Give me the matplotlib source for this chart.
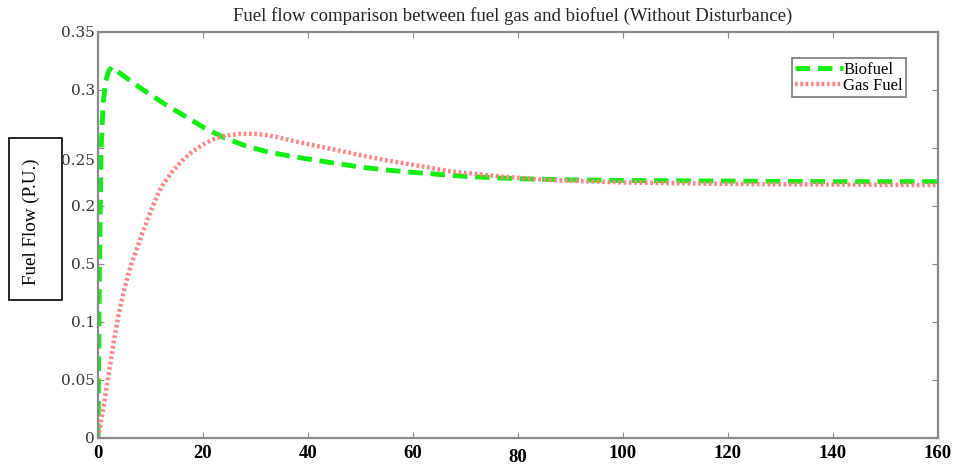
import matplotlib
matplotlib.use("Agg")
import matplotlib.pyplot as plt
from matplotlib.patches import Rectangle
from matplotlib.transforms import ScaledTranslation

# Data
bio_x = [0, 0.3, 0.6, 1, 1.5, 2, 2.6, 4, 6, 8, 10, 13, 16, 20, 24, 28, 32, 36, 40,
         45, 50, 55, 60, 70, 80, 90, 100, 120, 140, 160]
bio_y = [0, 0.15, 0.25, 0.29, 0.308, 0.316, 0.3196, 0.315, 0.3085, 0.302, 0.296, 0.287,
         0.279, 0.268, 0.259, 0.252, 0.247, 0.2435, 0.2405, 0.237, 0.2335, 0.231, 0.229,
         0.2255, 0.2235, 0.2225, 0.222, 0.2215, 0.221, 0.221]

gas_x = [0, 1, 2, 3, 4, 5, 6, 7, 8, 9, 10, 11, 12, 14, 16, 18, 20, 22, 24, 27, 30, 32,
         34, 38, 42, 46, 50, 55, 60, 67, 77, 86, 100, 120, 140, 160]
gas_y = [0, 0.025, 0.054, 0.083, 0.108, 0.128, 0.145, 0.158, 0.171, 0.183, 0.195,
         0.206, 0.216, 0.229, 0.239, 0.247, 0.253, 0.2575, 0.2605, 0.2622, 0.2622, 0.2612,
         0.2595, 0.2553, 0.2515, 0.2477, 0.2438, 0.2393, 0.2355, 0.2300, 0.2253, 0.2224,
         0.2203, 0.219, 0.2185, 0.218]

x_ticks = [0, 20, 40, 60, 80, 100, 120, 140, 160]
y_ticks = [0, 0.05, 0.1, 0.15, 0.2, 0.25, 0.3, 0.35]
y_tick_labels = ["0", "0.05", "0.1", "0.5", "0.2", "0.25", "0.3", "0.35"]

serif = ["Liberation Serif", "DejaVu Serif"]

fig = plt.figure(figsize=(9.56, 4.67), dpi=100)
ax = fig.add_axes([0.1025, 0.0621, 0.8785, 0.8694])

ax.plot(bio_x, bio_y, color="#11ee11", linestyle=(0, (3, 1.6)), linewidth=3.5,
        label="Biofuel")
ax.plot(gas_x, gas_y, color="#ff8585", linestyle=(0, (0.6, 0.6)), linewidth=3.2,
        label="Gas Fuel")

ax.set_xlim(0, 160)
ax.set_ylim(0, 0.35)
ax.set_xticks(x_ticks)
ax.set_yticks(y_ticks)
ax.set_yticklabels(y_tick_labels, fontfamily=["DejaVu Serif"], fontsize=11,
                   color="#333333")
ax.set_xticklabels([str(t) for t in x_ticks], fontfamily=serif, fontsize=13.5,
                   fontweight="bold")
ax.tick_params(axis="y", direction="in", length=4, color="#888888", right=True, pad=2)
ax.tick_params(axis="x", direction="in", length=4, color="#888888", top=True, pad=5)
for s in ax.spines.values():
    s.set_color("#8a8a8a")
    s.set_linewidth(1.6)

# the reference shows the "80" label a little lower and "0.25" a little lower
for lbl in ax.get_xticklabels():
    if lbl.get_text() == "80":
        lbl.set_transform(lbl.get_transform() + ScaledTranslation(0, -4 / 100, fig.dpi_scale_trans))
for lbl in ax.get_yticklabels():
    if lbl.get_text() == "0.25":
        lbl.set_transform(lbl.get_transform() + ScaledTranslation(0, -12 / 100, fig.dpi_scale_trans))

fig.text(0.536, 0.965,
         "Fuel flow comparison between fuel gas and biofuel (Without Disturbance)",
         fontfamily=serif, fontsize=13.5, color="#222222", ha="center", va="center")

leg = ax.legend(loc="upper left", bbox_to_anchor=(0.826, 0.935),
                prop={"family": serif, "size": 12},
                frameon=True, fancybox=False, handlelength=2.9, handletextpad=0,
                borderpad=0.2, labelspacing=0.0, borderaxespad=0)
leg.get_frame().set_edgecolor("#555555")
leg.get_frame().set_linewidth(1.2)

# y-label in a box
fig.patches.append(Rectangle((9 / 956, 1 - 300 / 467), 53 / 956, 162 / 467,
                             transform=fig.transFigure, facecolor="white",
                             edgecolor="black", linewidth=1.2, zorder=-1))
fig.text(31 / 956, 1 - 222 / 467, "Fuel Flow (P.U.)", rotation=90, ha="center",
         va="center", fontfamily=serif, fontsize=13.7)

fig.savefig("out.png", dpi=100)
